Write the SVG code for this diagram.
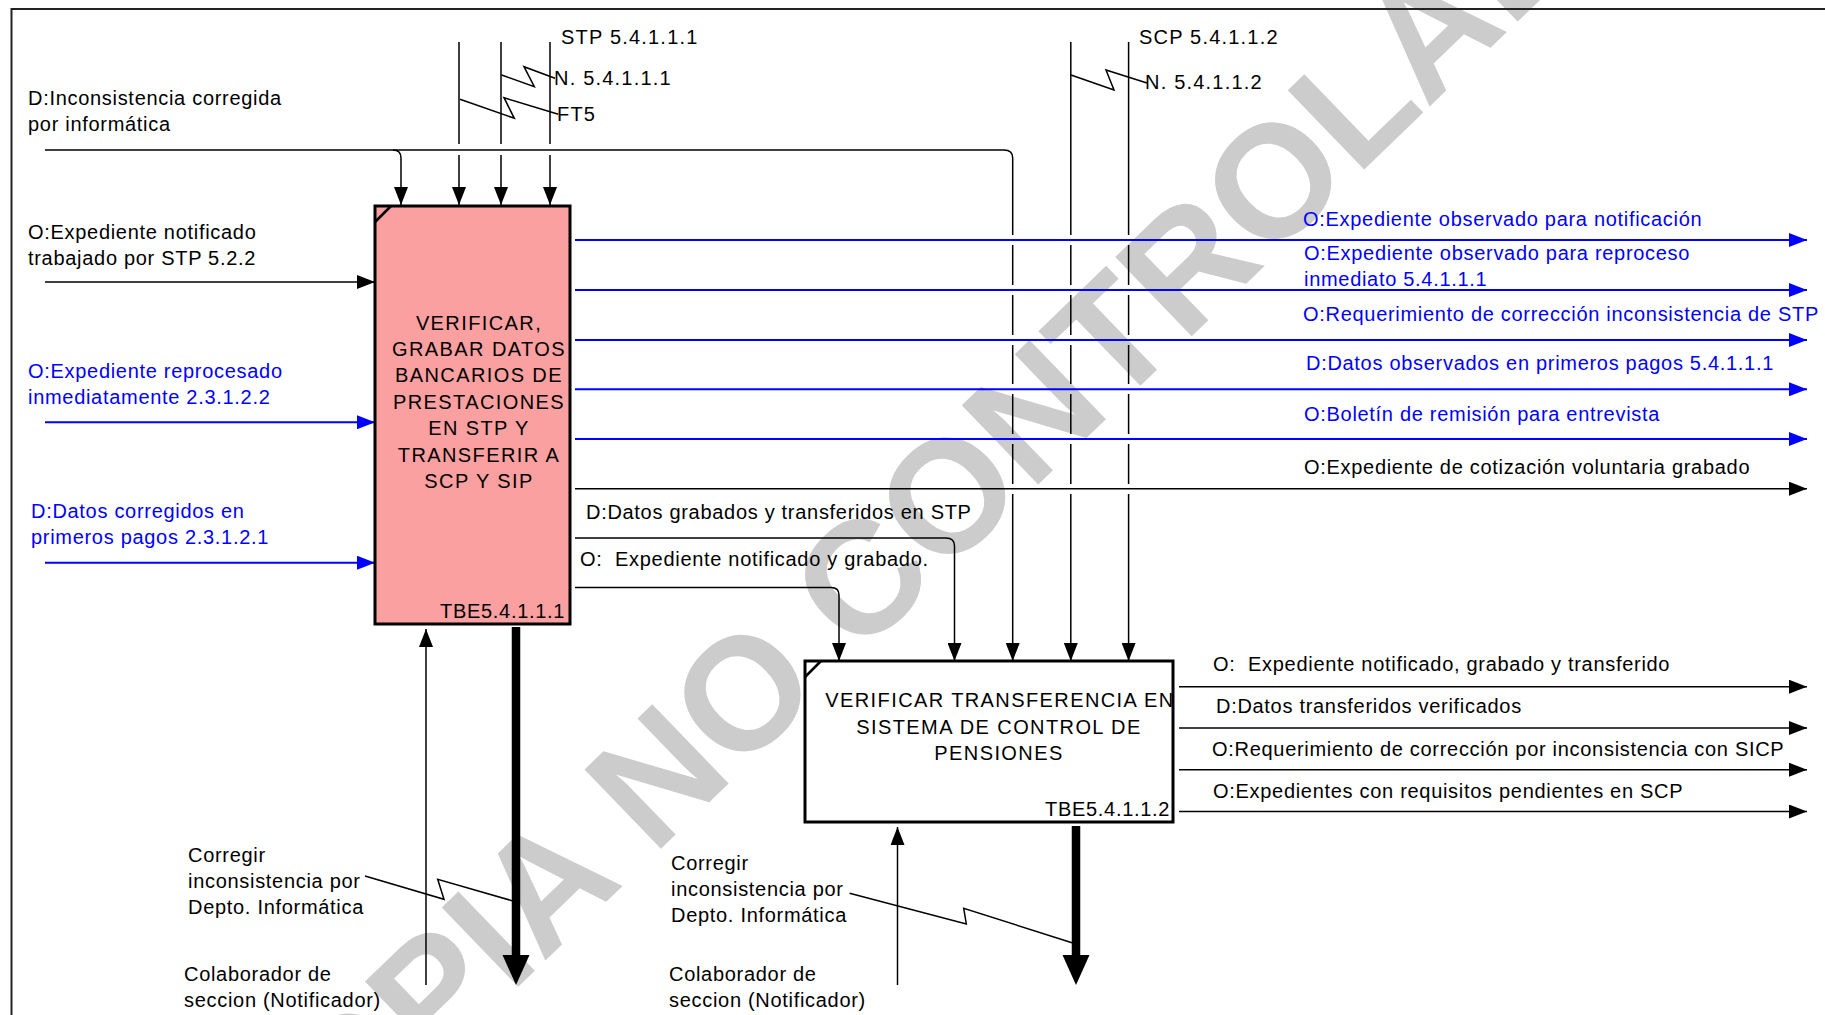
<svg xmlns="http://www.w3.org/2000/svg" width="1825" height="1015" viewBox="0 0 1825 1015">
<style>
text{font-family:"Liberation Sans",Arial,sans-serif;font-size:20px;fill:#000;letter-spacing:0.7px}
.b{fill:#0000ff}
.u{letter-spacing:1.4px}
.n{letter-spacing:1.2px}
.wm{font-size:160px;font-weight:bold;fill:#cccccc;letter-spacing:0}
.ln{fill:none;stroke:#000;stroke-width:1.5}
.bl{fill:none;stroke:#0000ff;stroke-width:2}
.box{stroke:#000;stroke-width:3}
.thick{stroke:#000;stroke-width:8.5;fill:none}
</style>
<defs>
<marker id="ak" markerUnits="userSpaceOnUse" markerWidth="18" markerHeight="14" refX="18" refY="7" orient="auto" viewBox="0 0 18 14"><path d="M0,0 L18,7 L0,14 z" fill="#000"/></marker>
<marker id="ab" markerUnits="userSpaceOnUse" markerWidth="18" markerHeight="14" refX="18" refY="7" orient="auto" viewBox="0 0 18 14"><path d="M0,0 L18,7 L0,14 z" fill="#0000ff"/></marker>
</defs>
<rect width="1825" height="1015" fill="#fff"/>
<text class="wm" transform="translate(261,1235) rotate(-44)">COPIA NO CONTROLADA</text>
<path d="M11.5,1015 V9 H1825" fill="none" stroke="#222" stroke-width="2"/>

<g id="connectors">
<!-- top controls box1 -->
<path class="ln" d="M45,150 H1004 Q1012.7,150 1012.7,158 V235 M1012.7,245 V285 M1012.7,295 V335 M1012.7,345 V384 M1012.7,394 V434 M1012.7,444 V484 M1012.7,494 V661" marker-end="url(#ak)"/>
<path class="ln" d="M393,150 Q401,150 401,158 V205" marker-end="url(#ak)"/>
<path class="ln" d="M459,42 V144 M459,155 V205" marker-end="url(#ak)"/>
<path class="ln" d="M501,42 V144 M501,155 V205" marker-end="url(#ak)"/>
<path class="ln" d="M550,42 V144 M550,155 V205" marker-end="url(#ak)"/>
<path class="ln" d="M1070.8,42 V235 M1070.8,245 V285 M1070.8,295 V335 M1070.8,345 V384 M1070.8,394 V434 M1070.8,444 V484 M1070.8,494 V661" marker-end="url(#ak)"/>
<path class="ln" d="M1128.6,42 V235 M1128.6,245 V285 M1128.6,295 V335 M1128.6,345 V384 M1128.6,394 V434 M1128.6,444 V484 M1128.6,494 V661" marker-end="url(#ak)"/>
<!-- squiggles -->
<path class="ln" d="M501.7,75 L534.3,86.7 L524,66.7 L555,78.3"/>
<path class="ln" d="M460,99.3 L514.3,118.3 L504,97.7 L558.3,114.3"/>
<path class="ln" d="M1071,75 L1114,90 L1106,70 L1147,83"/>
<path class="ln" d="M365,876 L444,899.3 L437.7,879.3 L512,900.7"/>
<path class="ln" d="M849.6,893.3 L966.3,924 L963.7,908.3 L1072,942.7"/>
<!-- left inputs -->
<path class="ln" d="M45,282 H375" marker-end="url(#ak)"/>
<path class="bl" d="M45,422.3 H375" marker-end="url(#ab)"/>
<path class="bl" d="M45,562.7 H375" marker-end="url(#ab)"/>
<!-- box1 outputs -->
<path class="bl" d="M575,240 H1807" marker-end="url(#ab)"/>
<path class="bl" d="M575,290 H1807" marker-end="url(#ab)"/>
<path class="bl" d="M575,340 H1807" marker-end="url(#ab)"/>
<path class="bl" d="M575,389.3 H1807" marker-end="url(#ab)"/>
<path class="bl" d="M575,439 H1807" marker-end="url(#ab)"/>
<path class="ln" d="M575,488.7 H1807" marker-end="url(#ak)"/>
<path class="ln" d="M575,538 H946 Q954.5,538 954.5,546 V661" marker-end="url(#ak)"/>
<path class="ln" d="M575,587.5 H831 Q839,587.5 839,595 V661" marker-end="url(#ak)"/>
<!-- box2 outputs -->
<path class="ln" d="M1179,686.7 H1807" marker-end="url(#ak)"/>
<path class="ln" d="M1179,728 H1807" marker-end="url(#ak)"/>
<path class="ln" d="M1179,769.7 H1807" marker-end="url(#ak)"/>
<path class="ln" d="M1179,811.5 H1807" marker-end="url(#ak)"/>
<!-- mechanisms & calls -->
<path class="ln" d="M426,985 V629" marker-end="url(#ak)"/>
<path class="ln" d="M897.5,985 V827" marker-end="url(#ak)"/>
<path class="thick" d="M516,627 V957"/>
<path d="M502.5,955 L529.5,955 L516,985 z" fill="#000"/>
<path class="thick" d="M1076,826 V957"/>
<path d="M1062.5,955 L1089.5,955 L1076,985 z" fill="#000"/>
</g>

<g id="box1">
<rect class="box" x="375" y="206" width="195" height="418" fill="#faa0a0"/>
<path d="M375,222 L391,206" stroke="#000" stroke-width="2.5"/>
<text class="u" text-anchor="middle" x="479" y="329.5">VERIFICAR,</text>
<text class="u" text-anchor="middle" x="479" y="355.9">GRABAR DATOS</text>
<text class="u" text-anchor="middle" x="479" y="382.3">BANCARIOS DE</text>
<text class="u" text-anchor="middle" x="479" y="408.7">PRESTACIONES</text>
<text class="u" text-anchor="middle" x="479" y="435.1">EN STP Y</text>
<text class="u" text-anchor="middle" x="479" y="461.5">TRANSFERIR A</text>
<text class="u" text-anchor="middle" x="479" y="487.9">SCP Y SIP</text>
<text x="440" y="618" letter-spacing="1">TBE5.4.1.1.1</text>
</g>

<g id="box2">
<rect class="box" x="805" y="661" width="368" height="161" fill="#fff"/>
<path d="M805,677 L821,661" stroke="#000" stroke-width="2.5"/>
<text class="u" text-anchor="middle" x="1000" y="707">VERIFICAR TRANSFERENCIA EN</text>
<text class="u" text-anchor="middle" x="999" y="733.5">SISTEMA DE CONTROL DE</text>
<text class="u" text-anchor="middle" x="999" y="760">PENSIONES</text>
<text x="1045" y="816" letter-spacing="1">TBE5.4.1.1.2</text>
</g>

<g id="labels">
<text class="n" x="561" y="44">STP 5.4.1.1.1</text>
<text class="n" x="554" y="85">N. 5.4.1.1.1</text>
<text class="n" x="557" y="121">FT5</text>
<text class="n" x="1139" y="44">SCP 5.4.1.1.2</text>
<text class="n" x="1145" y="89">N. 5.4.1.1.2</text>
<text x="28" y="105">D:Inconsistencia corregida</text>
<text x="28" y="130.5">por informática</text>
<text x="28" y="239">O:Expediente notificado</text>
<text x="28" y="265">trabajado por STP 5.2.2</text>
<text class="b" x="28" y="378">O:Expediente reprocesado</text>
<text class="b" x="28" y="404">inmediatamente 2.3.1.2.2</text>
<text class="b" x="31" y="517.5">D:Datos corregidos en</text>
<text class="b" x="31" y="544">primeros pagos 2.3.1.2.1</text>
<text class="b" x="1303" y="226">O:Expediente observado para notificación</text>
<text class="b" x="1304" y="259.5">O:Expediente observado para reproceso</text>
<text class="b" x="1304" y="285.5">inmediato 5.4.1.1.1</text>
<text class="b" x="1303" y="321">O:Requerimiento de corrección inconsistencia de STP</text>
<text class="b" x="1306" y="370">D:Datos observados en primeros pagos 5.4.1.1.1</text>
<text class="b" x="1304" y="421">O:Boletín de remisión para entrevista</text>
<text x="1304" y="473.7">O:Expediente de cotización voluntaria grabado</text>
<text x="586" y="519">D:Datos grabados y transferidos en STP</text>
<text x="580" y="565.7">O:&#160; Expediente notificado y grabado.</text>
<text x="1213" y="670.5">O:&#160; Expediente notificado, grabado y transferido</text>
<text x="1216" y="713">D:Datos transferidos verificados</text>
<text x="1212" y="756">O:Requerimiento de corrección por inconsistencia con SICP</text>
<text x="1213" y="797.5">O:Expedientes con requisitos pendientes en SCP</text>
<text x="188" y="862">Corregir</text>
<text x="188" y="888">inconsistencia por</text>
<text x="188" y="914">Depto. Informática</text>
<text x="184" y="981">Colaborador de</text>
<text x="184" y="1007">seccion (Notificador)</text>
<text x="671" y="870">Corregir</text>
<text x="671" y="896">inconsistencia por</text>
<text x="671" y="922">Depto. Informática</text>
<text x="669" y="981">Colaborador de</text>
<text x="669" y="1007">seccion (Notificador)</text>
</g>
</svg>
